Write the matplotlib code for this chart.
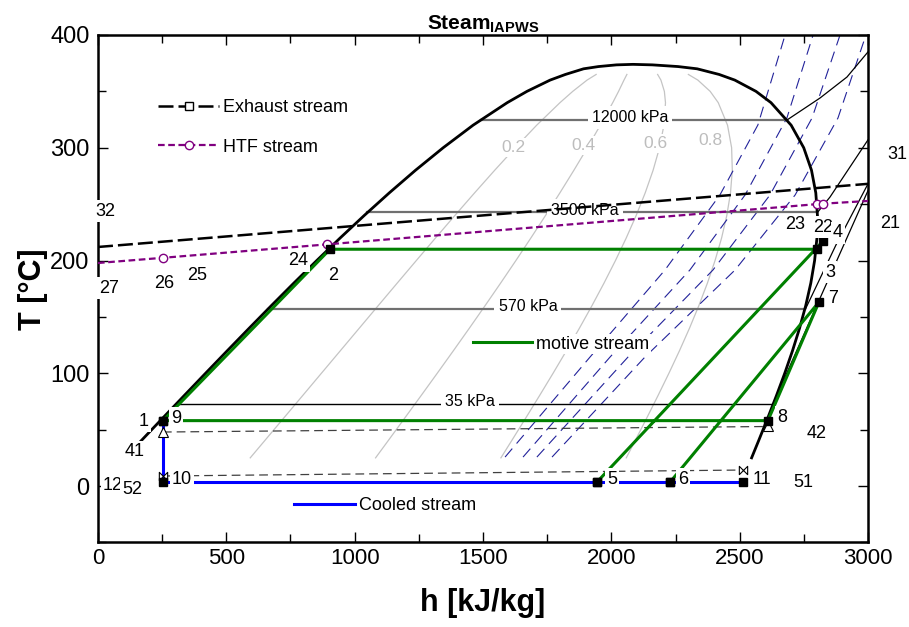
import numpy as np
import matplotlib
matplotlib.use("Agg")
import matplotlib.pyplot as plt
from matplotlib.lines import Line2D
from matplotlib.path import Path
from matplotlib.ticker import MultipleLocator

plt.rcParams['font.family'] = ['Liberation Sans', 'DejaVu Sans']
plt.rcParams['mathtext.fontset'] = 'custom'
plt.rcParams['mathtext.rm'] = 'Liberation Sans'
plt.rcParams['mathtext.bf'] = 'Liberation Sans:bold'

# saturation dome, T [C] with liquid / vapour enthalpy [kJ/kg]
sat_T = [25, 40, 60, 80, 100, 120, 140, 160, 180, 200, 220, 240, 260,
         280, 300, 320, 340, 350, 360, 365, 370, 372, 373.5, 373.95]
sat_hf = [104.8, 167.5, 251.1, 335.0, 419.1, 503.8, 589.2, 675.5, 763.1,
          852.4, 943.6, 1037.6, 1135.0, 1236.8, 1344.8, 1461.3, 1594.5,
          1671.2, 1761.5, 1821.0, 1891.7, 1950.0, 2020.0, 2084.3]
sat_hg = [2546.5, 2573.5, 2608.8, 2643.0, 2675.6, 2705.9, 2733.4, 2757.4,
          2777.2, 2792.0, 2801.1, 2803.0, 2796.6, 2779.9, 2749.6, 2700.6,
          2622.0, 2563.6, 2481.0, 2420.0, 2334.5, 2260.0, 2160.0, 2084.3]

# quality lines and where their labels sit
qualities = [0.2, 0.4, 0.6, 0.8]
quality_top_T = 365
quality_label_h = [1617, 1890, 2170, 2388]
quality_label_T = [300, 302, 304, 306]

# isobars: saturation part plus superheated tail
isobar_names = ['12000 kPa', '3500 kPa', '570 kPa', '35 kPa']
isobar_Tsat = [324.7, 242.6, 156.8, 72.7]
isobar_hf = [1491, 1050, 662, 305]
isobar_hg = [2685, 2803, 2756, 2630]
isobar_sup_h = [[2685, 2813, 2918, 3000], [2803, 2852, 3000],
                [2756, 2875, 3000], [2630, 2810, 3000]]
isobar_sup_T = [[324.7, 344.1, 362.7, 385.0], [242.6, 256.3, 307.0],
                [156.8, 213.7, 268.0], [72.7, 165.0, 262.0]]
isobar_label_h = [2073, 1897, 1675, 1449]

# isentropes (blue dashed)
isentrope_h = [[1586, 1917, 2209, 2423, 2571, 2677],
               [1656, 1995, 2306, 2521, 2684, 2786],
               [1710, 2065, 2396, 2618, 2782, 2891],
               [1769, 2131, 2482, 2716, 2883, 2992]]
isentrope_T = [[25.7, 114.4, 191.6, 258.1, 320.2, 400],
               [25.7, 114.4, 191.6, 258.1, 326.4, 400],
               [25.7, 114.4, 191.6, 258.1, 326.4, 400],
               [25.7, 114.4, 191.6, 258.1, 326.4, 400]]

# streams
exhaust_h = [0, 3000]
exhaust_T = [212, 268]
htf_h = [0, 253, 892, 2801, 2825, 3000]
htf_T = [197.8, 202.4, 214.3, 250.0, 250.4, 252.8]
htf_marked = [1, 2, 3, 4]
motive_h = [2229, 2809, 2610, 253, 904, 2801, 2825, 1944]
motive_T = [3.5, 163.2, 58, 58, 210, 210, 217.3, 3.5]
cooled_h = [253, 253, 1944, 2229, 2513]
cooled_T = [58, 4, 4, 4, 4]
cond_h = [253, 2610]
cond_T = [47.9, 52.8]
sub_h = [253, 2513]
sub_T = [8.9, 14.2]

# state point labels
point_labels = ['32', '27', '26', '25', '24', '2', '23', '22', '4', '21', '31',
                '3', '7', '8', '42', '11', '51', '6', '5', '10', '12', '52',
                '41', '1', '9']
point_label_h = [27, 43, 257, 386, 779, 916, 2716, 2825, 2883, 3086, 3113,
                 2852, 2864, 2665, 2801, 2587, 2747, 2279, 2003, 327, 58, 132,
                 144, 179, 304]
point_label_T = [243.9, 175.6, 180, 187.1, 199.6, 187.1, 231.5, 229.7, 224.4,
                 232.4, 293.6, 189.8, 165.9, 61.2, 47.0, 6.2, 3.5, 6.2, 6.2,
                 6.2, 0.5, -2.7, 30.2, 57.6, 60.3]

fig = plt.figure(figsize=(9.09, 6.27), dpi=100)
ax = fig.add_axes([0.1078, 0.1349, 0.8471, 0.8093])

sat_T = np.array(sat_T)
hf = np.array(sat_hf)
hg = np.array(sat_hg)

# quality lines
sel = sat_T <= quality_top_T
for q in qualities:
    ax.plot(hf[sel] + q * (hg[sel] - hf[sel]), sat_T[sel], color='#c4c4c4',
            lw=0.9, zorder=1)
for q, lh, lt in zip(qualities, quality_label_h, quality_label_T):
    ax.text(lh, lt, f'{q:.1f}', color='#bdbdbd', fontsize=12.5, ha='center',
            va='center', zorder=2,
            bbox=dict(fc='white', ec='none', pad=1.5))

# isentropes
for ih, it in zip(isentrope_h, isentrope_T):
    ax.plot(ih, it, color='#22229a', lw=0.8, ls=(0, (10, 6)), zorder=1.5)

# isobars
for i, name in enumerate(isobar_names):
    c = 'k' if i == 3 else '#707070'
    w = 1.0 if i == 3 else 1.6
    ax.plot([isobar_hf[i], isobar_hg[i]], [isobar_Tsat[i]] * 2, color=c,
            lw=w, zorder=2)
    ax.plot(isobar_sup_h[i], isobar_sup_T[i], color='k', lw=0.9, zorder=2)
    ax.text(isobar_label_h[i], isobar_Tsat[i] + 2, name, fontsize=11.5,
            ha='center', va='center', zorder=2.2,
            bbox=dict(fc='white', ec='none', pad=3))

# dome
ax.plot(np.concatenate([hf, hg[::-1]]), np.concatenate([sat_T, sat_T[::-1]]),
        color='k', lw=2.0, zorder=3)

# exhaust and heat transfer fluid
ax.plot(exhaust_h, exhaust_T, color='k', lw=1.8, ls=(0, (6, 2)), zorder=3.5)
ax.plot(htf_h, htf_T, color='#800080', lw=1.6, ls=(0, (3, 1.6)), zorder=3.5)
ax.plot([htf_h[i] for i in htf_marked], [htf_T[i] for i in htf_marked],
        ls='none', marker='o', ms=6, mfc='white', mec='#800080', mew=1,
        zorder=5)

# condenser cooling water streams
bowtie = Path([(-1, -1), (-1, 1), (1, -1), (1, 1), (-1, -1)],
              [Path.MOVETO, Path.LINETO, Path.LINETO, Path.LINETO,
               Path.CLOSEPOLY])
ax.plot(cond_h, cond_T, color='#404040', lw=0.9, ls=(0, (7, 4)), zorder=3.6)
ax.plot(cond_h, cond_T, ls='none', marker='^', ms=7, mfc='white', mec='k',
        mew=0.8, zorder=5)
ax.plot(sub_h, sub_T, color='#404040', lw=0.9, ls=(0, (7, 4)), zorder=3.6)
ax.plot(sub_h, sub_T, ls='none', marker=bowtie, ms=6, mfc='white', mec='k',
        mew=0.8, zorder=5)

# motive and cooled streams
ax.plot(motive_h, motive_T, color='#008000', lw=2.2, zorder=4)
ax.plot(cooled_h, cooled_T, color='#0000ff', lw=2.2, zorder=4)
ax.plot(motive_h, motive_T, ls='none', marker='s', ms=6, color='k', zorder=5)
ax.plot(cooled_h, cooled_T, ls='none', marker='s', ms=6, color='k', zorder=5)

for lab, lh, lt in zip(point_labels, point_label_h, point_label_T):
    ax.text(lh, lt, lab, fontsize=13, ha='center', va='center', zorder=6,
            clip_on=False, bbox=dict(fc='white', ec='none', pad=1.5))

# legends
leg1 = ax.legend(
    [Line2D([], [], color='k', lw=1.8, ls=(0, (6, 2)), marker='s', ms=6,
            mfc='white', mec='k'),
     Line2D([], [], color='#800080', lw=1.6, ls=(0, (3, 1.6)), marker='o',
            ms=6, mfc='white', mec='#800080')],
    ['Exhaust stream', 'HTF stream'], loc='upper left', numpoints=1,
    bbox_to_anchor=(158 / 909, 1 - 99 / 627), bbox_transform=fig.transFigure,
    frameon=False, fontsize=13, handlelength=3.4, handletextpad=0.2,
    labelspacing=1.25, borderpad=0, borderaxespad=0)
leg1.set_zorder(7)
ax.add_artist(leg1)
leg2 = ax.legend([Line2D([], [], color='#008000', lw=2.2)], ['motive stream'],
                 loc='center left', bbox_to_anchor=(471 / 909, 1 - 344 / 627),
                 bbox_transform=fig.transFigure, fontsize=13,
                 handlelength=3.3, handletextpad=0.2, borderpad=0.1,
                 borderaxespad=0, frameon=True, fancybox=False,
                 edgecolor='none', facecolor='white', framealpha=1)
leg2.set_zorder(7)
ax.add_artist(leg2)
leg3 = ax.legend([Line2D([], [], color='#0000ff', lw=2.2)], ['Cooled stream'],
                 loc='center left', bbox_to_anchor=(292 / 909, 1 - 506 / 627),
                 bbox_transform=fig.transFigure, fontsize=13,
                 handlelength=3.4, handletextpad=0.2, borderpad=0.1,
                 borderaxespad=0, frameon=False)
leg3.set_zorder(7)

ax.set_xlim(0, 3000)
ax.set_ylim(-50, 400)
ax.xaxis.set_major_locator(MultipleLocator(500))
ax.xaxis.set_minor_locator(MultipleLocator(250))
ax.yaxis.set_major_locator(MultipleLocator(100))
ax.yaxis.set_minor_locator(MultipleLocator(50))
ax.tick_params(which='both', direction='in', top=True, right=True, width=1)
ax.tick_params(which='major', length=7)
ax.tick_params(which='minor', length=6)
ax.tick_params(axis='x', labelsize=16, pad=4)
ax.tick_params(axis='y', labelsize=17, pad=6)
for s in ax.spines.values():
    s.set_linewidth(1.8)

ax.set_xlabel('h [kJ/kg]', fontsize=22, fontweight='bold', labelpad=14)
ax.set_ylabel('T [°C]', fontsize=22, fontweight='bold', labelpad=2)
ax.set_title(r'$\mathbf{Steam}_{\mathbf{IAPWS}}$', fontsize=15, pad=4)

fig.savefig('out.png', dpi=100)
